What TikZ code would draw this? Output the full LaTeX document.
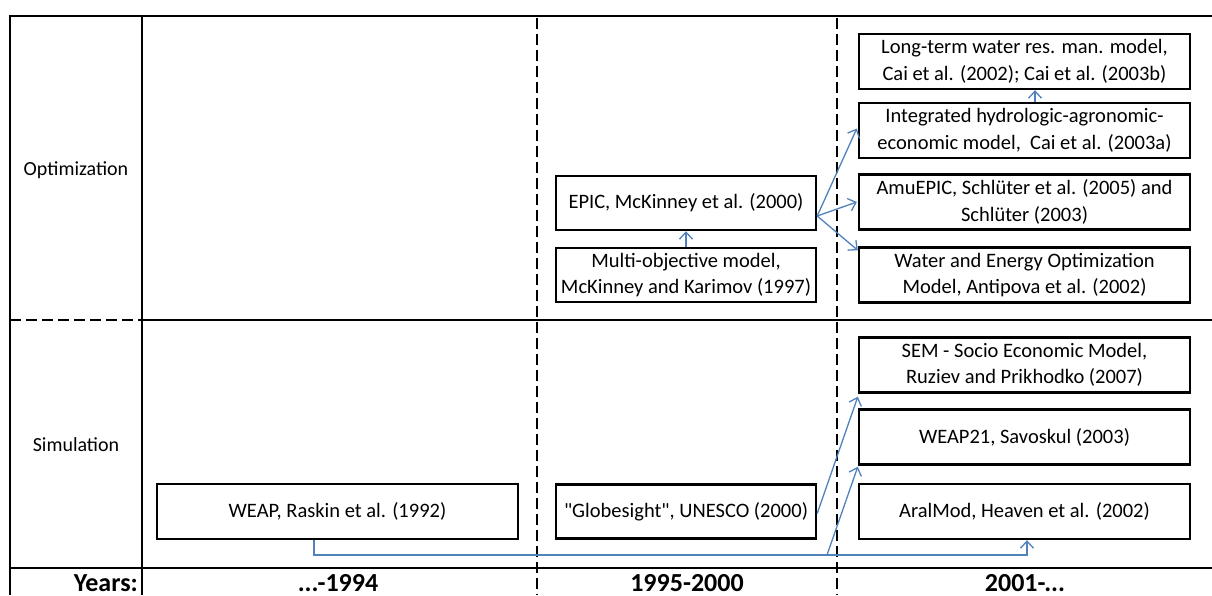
\documentclass[tikz,border=0pt]{standalone}
\usepackage{fontspec}
\setmainfont{Carlito}[Ligatures=TeXOff]
\usetikzlibrary{arrows.meta,calc}
\definecolor{conn}{HTML}{4F81BD}
\tikzset{
  frame/.style={line width=2.4pt, black},
  dashframe/.style={line width=2.4pt, black, dash pattern=on 11pt off 5pt},
  box/.style={draw, line width=2.4pt, inner sep=0pt, align=center,
    font=\fontsize{20.5}{26.5}\selectfont, text=black},
  wbox/.style={box, minimum width=331pt, minimum height=55pt},
  mbox/.style={box, minimum width=260pt, minimum height=54pt},
  link/.style={conn, line width=1.3pt, -{Straight Barb[length=7pt,width=13pt,line width=1.3pt]}},
  rowlab/.style={font=\fontsize{20}{24}\selectfont},
  yearlab/.style={font=\fontsize{26}{30}\selectfont\bfseries}
}
\begin{document}
\begin{tikzpicture}[x=1pt,y=-1pt]
\useasboundingbox (0,0) rectangle (1212,595);
% table frame
\draw[frame] (10,595) -- (10,16) -- (1212,16);
\draw[frame] (142,16) -- (142,595);
\draw[frame] (142,320) -- (1212,320);
\draw[dashframe] (10,320) -- (142,320);
\draw[frame] (10,568) -- (1212,568);
\draw[dashframe] (537,18) -- (537,595);
\draw[dashframe] (837,18) -- (837,595);
% row labels
\node[rowlab] (opt) at (76,170) {Optimization};
\node[rowlab] (sim) at (76,445) {Simulation};
% year labels
\node[yearlab, anchor=base east, inner sep=0pt] (yrs) at (138,591) {Years:};
\node[yearlab, anchor=base, inner sep=0pt] (y1) at (338,591) {...-1994};
\node[yearlab, anchor=base, inner sep=0pt] (y2) at (687,591) {1995-2000};
\node[yearlab, anchor=base, inner sep=0pt] (y3) at (1025,591) {2001-...};
% boxes
\node[wbox] (long) at (1024.5,61.5) {Long-term water res. man. model,\\Cai et al. (2002); Cai et al. (2003b)};
\node[wbox] (integ) at (1024.5,130.5) {Integrated hydrologic-agronomic-\\economic model,~ Cai et al. (2003a)};
\node[wbox] (amu) at (1024.5,202) {AmuEPIC, Schlüter et al. (2005) and\\Schlüter (2003)};
\node[wbox] (water) at (1024.5,275) {Water and Energy Optimization\\Model, Antipova et al. (2002)};
\node[mbox] (epic) at (686,203) {EPIC, McKinney et al. (2000)};
\node[mbox] (multi) at (686,275) {Multi-objective model,\\McKinney and Karimov (1997)};
\node[wbox] (sem) at (1024.5,365) {SEM - Socio Economic Model,\\Ruziev and Prikhodko (2007)};
\node[wbox] (w21) at (1024.5,437) {WEAP21, Savoskul (2003)};
\node[wbox] (aral) at (1024.5,511.5) {AralMod, Heaven et al. (2002)};
\node[mbox] (glob) at (686,511.5) {"Globesight", UNESCO (2000)};
\node[box, minimum width=361pt, minimum height=55pt] (weap) at (337.5,511.5) {WEAP, Raskin et al. (1992)};
% connectors
\draw[link] (multi.north) -- (epic.south);
\draw[link] ([xshift=10.5pt]integ.north) -- ([xshift=10.5pt]long.south);
\coordinate (epicout) at ($(epic.east)+(0,13)$);
\draw[link] (epicout) -- ($(integ.west)+(-1,-2)$);
\draw[link] (epicout) -- ($(amu.west)+(-1,0)$);
\draw[link] (epicout) -- ($(water.north west)+(0,4)$);
\draw[link] ($(glob.east)+(0,2)$) -- ($(sem.south west)+(0,3)$);
\coordinate (bend) at (827,555);
\draw[link] ([xshift=-23.5pt]weap.south) |- (bend) -| ([xshift=2.5pt]aral.south);
\draw[link] (bend) -- ($(w21.south west)+(0,1)$);
\end{tikzpicture}
\end{document}
